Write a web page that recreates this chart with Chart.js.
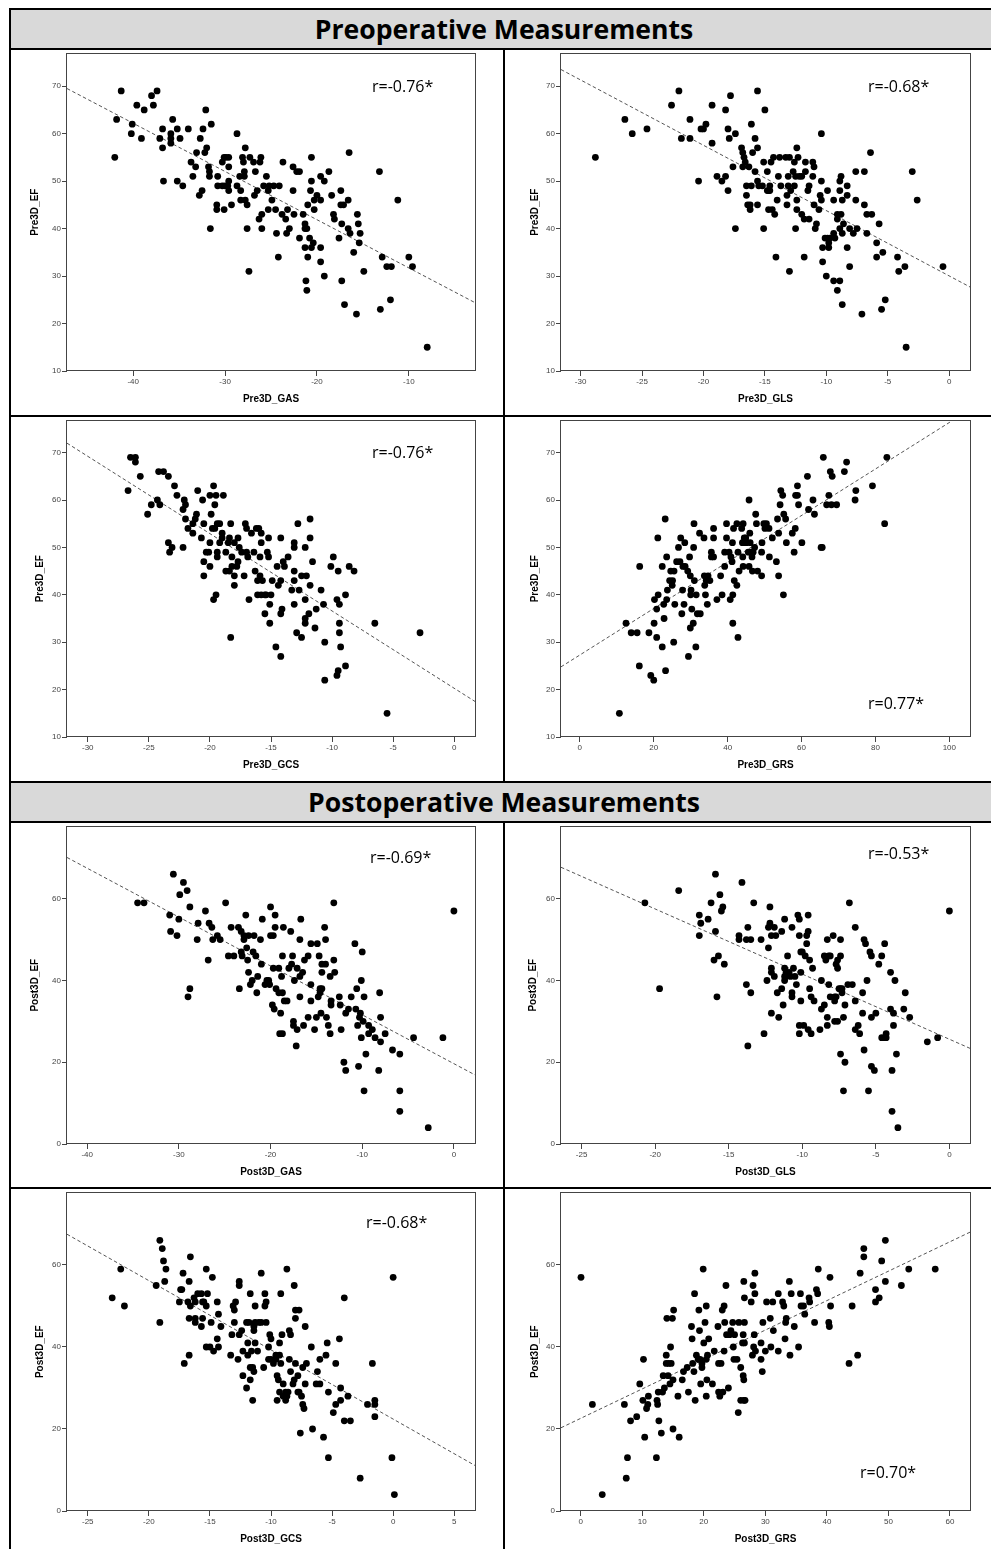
<!DOCTYPE html>
<html><head><meta charset="utf-8">
<script src="https://cdn.jsdelivr.net/npm/chart.js@4.4.1/dist/chart.umd.min.js"></script>
<style>
html,body{margin:0;padding:0;background:#fff;}
body{width:991px;height:1549px;overflow:hidden;position:relative;}
.ln{position:absolute;background:#000;}
.hdr{position:absolute;background:#d9d9d9;left:11px;width:986px;height:38px;line-height:38px;text-align:center;font-family:"Open Sans",sans-serif;font-weight:bold;font-size:26.6px;color:#000;white-space:nowrap;}
canvas{position:absolute;}
</style></head><body>
<div class="ln" style="left:9px;top:8px;width:982px;height:2px"></div>
<div class="ln" style="left:9px;top:8px;width:2px;height:1541px"></div>
<div class="hdr" style="top:10px">Preoperative Measurements</div>
<div class="ln" style="left:9px;top:48px;width:982px;height:2px"></div>
<div class="ln" style="left:9px;top:415px;width:982px;height:2px"></div>
<div class="ln" style="left:9px;top:781px;width:982px;height:2px"></div>
<div class="hdr" style="top:783px">Postoperative Measurements</div>
<div class="ln" style="left:9px;top:821px;width:982px;height:2px"></div>
<div class="ln" style="left:9px;top:1187px;width:982px;height:2px"></div>
<div class="ln" style="left:503px;top:50px;width:2px;height:731px"></div>
<div class="ln" style="left:503px;top:823px;width:2px;height:726px"></div>
<canvas id="c1"></canvas><canvas id="c2"></canvas><canvas id="c3"></canvas><canvas id="c4"></canvas>
<canvas id="c5"></canvas><canvas id="c6"></canvas><canvas id="c7"></canvas><canvas id="c8"></canvas>
<script>
// ---------- DATA ----------
const preEFTicks = [10,20,30,40,50,60,70];
const postEFTicks = [0,20,40,60];
const preGASTicks = [-40,-30,-20,-10];
const preGLSTicks = [-30,-25,-20,-15,-10,-5,0];
const preGCSTicks = [-30,-25,-20,-15,-10,-5,0];
const preGRSTicks = [0,20,40,60,80,100];
const postGASTicks = [-40,-30,-20,-10,0];
const postGLSTicks = [-25,-20,-15,-10,-5,0];
const postGCSTicks = [-25,-20,-15,-10,-5,0,5];
const postGRSTicks = [0,10,20,30,40,50,60];

const rLabels = ["r=-0.76*","r=-0.68*","r=-0.76*","r=0.77*","r=-0.69*","r=-0.53*","r=-0.68*","r=0.70*"];

// [strain, EF]
const preGAS = [[-42.0,55],[-41.8,63],[-41.3,69],[-40.1,62],[-40.2,60],[-39.6,66],[-39.1,59],[-38.8,65],[-38.0,68],[-37.8,66],[-37.4,69],[-36.8,61],[-37.1,59],[-36.8,57],[-36.7,50],[-35.9,60],[-35.9,59],[-35.9,58],[-35.7,63],[-35.2,61],[-34.9,59],[-35.2,50],[-34.6,49],[-34.0,61],[-33.7,54],[-33.5,51],[-33.2,53],[-33.1,56],[-32.7,59],[-32.4,61],[-32.1,65],[-32.2,56],[-32.0,57],[-31.8,53],[-31.7,52],[-31.7,51],[-32.8,47],[-32.5,48],[-31.5,62],[-31.6,40],[-30.8,51],[-30.8,49],[-30.9,45],[-30.9,44],[-30.3,54],[-30.1,55],[-30.3,49],[-30.0,49],[-29.9,55],[-29.6,55],[-29.6,53],[-29.6,50],[-29.7,49],[-29.6,48],[-30.1,44],[-29.3,45],[-28.7,60],[-28.7,49],[-28.4,51],[-28.3,48],[-28.3,46],[-28.1,55],[-28.0,54],[-27.9,52],[-27.9,51],[-27.8,57],[-27.8,46],[-27.6,45],[-27.6,40],[-27.4,31],[-27.3,55],[-26.9,54],[-26.7,52],[-26.5,48],[-26.8,47],[-26.2,54],[-26.1,55],[-26.3,42],[-26.0,43],[-26.0,40],[-25.8,49],[-25.5,51],[-25.3,48],[-25.2,49],[-25.3,44],[-24.9,46],[-24.7,49],[-24.1,49],[-24.5,44],[-24.4,39],[-24.2,34],[-23.7,54],[-23.8,43],[-23.4,42],[-23.2,44],[-23.3,39],[-23.0,40],[-22.6,48],[-22.6,53],[-22.5,43],[-22.2,52],[-21.9,52],[-21.9,38],[-21.5,43],[-21.3,41],[-21.3,40],[-21.1,40],[-21.3,36],[-21.2,29],[-21.1,27],[-21.0,45],[-21.0,34],[-20.8,38],[-20.6,55],[-20.6,50],[-20.7,48],[-20.6,36],[-20.4,37],[-20.3,44],[-20.3,46],[-20.0,47],[-19.6,46],[-19.6,51],[-19.6,36],[-19.6,33],[-19.2,50],[-19.2,30],[-18.7,52],[-18.4,47],[-18.2,43],[-18.1,42],[-17.6,38],[-17.4,48],[-17.4,45],[-17.1,45],[-17.3,41],[-17.3,29],[-17.0,24],[-16.6,46],[-16.5,56],[-16.6,40],[-16.4,39],[-16.0,35],[-15.7,22],[-15.6,43],[-15.5,41],[-15.3,39],[-15.4,37],[-14.9,31],[-13.2,52],[-13.1,23],[-12.9,34],[-12.4,32],[-11.9,32],[-12.0,25],[-11.2,46],[-10.0,34],[-9.6,32],[-8.0,15]];
const preGLS = [[-28.8,55],[-26.4,63],[-25.8,60],[-24.6,61],[-22.6,66],[-22.0,69],[-21.8,59],[-21.1,63],[-21.1,59],[-20.4,50],[-20.2,61],[-20.0,61],[-19.8,62],[-19.3,66],[-19.3,58],[-18.9,51],[-18.5,50],[-18.2,51],[-18.2,65],[-18.0,61],[-17.9,59],[-18.0,48],[-17.8,68],[-17.6,53],[-17.4,60],[-17.4,40],[-16.9,57],[-16.8,53],[-16.8,56],[-16.7,55],[-16.6,54],[-16.5,49],[-16.5,47],[-16.4,45],[-16.3,53],[-16.2,44],[-16.2,45],[-16.1,49],[-16.1,62],[-16.0,56],[-15.8,59],[-15.8,52],[-15.6,57],[-15.6,69],[-15.6,50],[-15.6,45],[-15.5,49],[-15.2,49],[-15.1,54],[-15.0,65],[-15.1,40],[-14.8,52],[-14.8,48],[-14.7,48],[-14.7,44],[-14.6,49],[-14.5,54],[-14.6,48],[-14.4,44],[-14.3,55],[-14.2,43],[-14.1,34],[-14.0,46],[-13.9,51],[-13.8,55],[-13.7,49],[-13.3,55],[-13.2,45],[-13.1,49],[-13.1,51],[-13.2,47],[-13.0,55],[-13.0,31],[-12.9,48],[-12.7,52],[-12.6,49],[-12.6,54],[-12.5,51],[-12.5,40],[-12.4,57],[-12.4,46],[-12.4,44],[-12.3,55],[-12.2,51],[-12.0,51],[-12.0,43],[-11.8,42],[-11.7,52],[-11.7,54],[-11.8,34],[-11.5,48],[-11.4,49],[-11.4,42],[-11.1,54],[-11.1,51],[-11.0,53],[-11.0,45],[-10.9,40],[-10.8,41],[-10.6,44],[-10.5,47],[-10.4,50],[-10.4,46],[-10.4,60],[-10.3,36],[-10.3,33],[-10.1,38],[-10.0,30],[-9.9,48],[-9.9,38],[-9.8,37],[-9.8,36],[-9.7,38],[-9.4,39],[-9.4,46],[-9.3,38],[-9.4,29],[-9.1,43],[-9.1,42],[-9.1,27],[-8.9,40],[-8.9,29],[-8.9,50],[-8.9,48],[-8.8,51],[-8.8,43],[-8.7,46],[-8.7,24],[-8.7,39],[-8.6,41],[-8.3,36],[-8.3,47],[-8.3,49],[-8.1,32],[-8.1,40],[-7.8,39],[-7.6,46],[-7.6,52],[-7.5,40],[-7.1,22],[-6.9,52],[-6.9,45],[-6.7,43],[-6.7,39],[-6.3,43],[-6.4,56],[-5.9,37],[-5.9,34],[-5.7,41],[-5.5,23],[-5.4,35],[-5.2,25],[-4.2,34],[-4.1,31],[-3.6,32],[-3.5,15],[-3.0,52],[-2.6,46],[-0.5,32]];
const preGCS = [[-26.7,62],[-26.5,69],[-26.1,68],[-26.1,69],[-25.7,65],[-25.1,57],[-24.8,59],[-24.3,60],[-24.1,59],[-24.2,66],[-23.8,66],[-23.4,65],[-23.4,51],[-23.3,49],[-23.1,50],[-22.9,63],[-22.7,61],[-22.2,50],[-22.2,58],[-22.1,60],[-22.0,59],[-22.0,56],[-21.8,54],[-21.4,53],[-21.4,55],[-21.2,56],[-21.1,57],[-21.0,62],[-20.7,52],[-20.6,60],[-20.5,47],[-20.5,44],[-20.5,55],[-20.3,49],[-20.1,49],[-20.0,61],[-20.0,46],[-20.0,51],[-19.9,57],[-19.8,54],[-19.7,63],[-19.6,59],[-19.6,54],[-19.7,39],[-19.5,61],[-19.5,40],[-19.4,49],[-19.4,55],[-19.4,48],[-19.2,51],[-19.2,55],[-19.0,53],[-19.0,52],[-18.9,61],[-18.7,49],[-18.7,45],[-18.5,51],[-18.4,52],[-18.4,45],[-18.3,31],[-18.3,55],[-18.2,48],[-18.2,46],[-18.0,51],[-18.0,44],[-18.0,42],[-17.8,46],[-17.7,47],[-17.7,52],[-17.6,50],[-17.4,49],[-17.2,44],[-17.1,55],[-17.0,54],[-17.0,49],[-16.9,48],[-16.8,39],[-16.6,53],[-16.4,49],[-16.3,45],[-16.2,54],[-16.1,43],[-16.0,54],[-16.1,40],[-15.9,48],[-15.9,44],[-15.8,40],[-15.8,53],[-15.8,51],[-15.7,43],[-15.5,40],[-15.5,36],[-15.4,40],[-15.3,49],[-15.2,52],[-15.2,48],[-15.1,38],[-15.1,34],[-15.0,40],[-14.9,43],[-14.5,46],[-14.4,42],[-14.2,43],[-14.2,36],[-14.2,27],[-14.1,37],[-14.6,29],[-14.2,52],[-14.0,47],[-13.9,46],[-13.6,48],[-13.3,41],[-13.1,51],[-13.1,50],[-13.1,45],[-13.1,43],[-13.1,38],[-12.9,32],[-12.8,55],[-12.7,41],[-12.5,31],[-12.5,44],[-12.2,50],[-12.2,39],[-12.2,35],[-12.2,34],[-12.1,44],[-11.9,36],[-11.8,42],[-11.8,52],[-11.8,56],[-11.6,47],[-11.4,33],[-11.3,37],[-10.9,41],[-10.7,38],[-10.6,30],[-10.6,22],[-10.1,46],[-9.9,48],[-9.6,39],[-9.5,45],[-9.4,38],[-9.4,34],[-9.4,32],[-9.3,29],[-9.5,24],[-9.6,23],[-8.9,40],[-8.9,25],[-8.6,46],[-8.2,45],[-6.5,34],[-5.5,15],[-2.8,32]];
const preGRS = [[10.7,15],[12.5,34],[13.9,32],[15.5,32],[16.1,25],[16.2,46],[18.7,32],[19.2,23],[20.0,22],[20.1,34],[20.2,39],[20.8,31],[20.8,37],[21.1,52],[21.2,40],[22.3,29],[22.3,46],[22.7,38],[22.8,35],[23.1,56],[23.2,24],[23.5,48],[23.5,39],[23.7,41],[24.3,43],[24.6,45],[25.0,42],[25.1,43],[25.4,30],[25.5,45],[25.7,38],[26.2,47],[26.7,50],[27.1,47],[27.3,52],[27.6,36],[27.8,41],[27.9,46],[28.2,38],[28.4,51],[28.5,46],[29.2,45],[29.4,27],[29.7,48],[29.9,33],[29.9,44],[30.1,41],[30.0,40],[30.3,37],[30.7,34],[30.9,55],[30.8,50],[31.0,43],[31.4,29],[31.5,40],[31.8,36],[32.6,36],[32.4,53],[33.6,52],[33.7,44],[33.8,42],[34.0,40],[34.2,43],[34.5,38],[34.7,44],[35.2,43],[35.6,49],[35.6,48],[36.2,48],[36.2,54],[36.2,52],[37.1,39],[38.1,44],[38.5,40],[39.2,49],[39.7,55],[39.7,52],[39.2,46],[40.4,49],[40.7,39],[40.9,48],[41.2,47],[41.3,51],[41.4,40],[41.4,34],[41.6,54],[41.8,43],[42.5,55],[42.5,42],[42.8,31],[42.8,49],[43.1,45],[43.8,54],[44.0,51],[44.1,48],[44.2,55],[44.2,46],[44.5,52],[44.8,51],[44.9,52],[45.1,51],[45.6,49],[45.8,60],[45.8,46],[46.0,53],[46.1,51],[46.2,49],[46.6,48],[46.7,45],[46.9,49],[47.3,50],[47.6,57],[47.8,55],[48.1,45],[49.2,44],[49.2,49],[49.3,51],[49.8,55],[50.1,54],[50.5,55],[51.2,54],[51.3,48],[52.1,52],[53.2,47],[53.5,56],[53.8,53],[53.8,44],[54.2,59],[54.4,62],[54.9,61],[55.1,40],[55.2,57],[55.7,56],[55.9,51],[57.5,53],[58.0,49],[58.3,54],[58.4,61],[58.9,61],[58.9,63],[59.2,59],[60.1,51],[61.6,65],[61.9,58],[63.1,60],[63.5,57],[65.3,50],[65.6,50],[65.9,69],[67.4,61],[66.8,59],[67.8,66],[68.1,59],[68.3,65],[69.5,59],[71.6,66],[72.2,68],[74.5,60],[74.7,62],[79.2,63],[82.5,55],[83.1,69]];
const postGAS = [[-34.5,59],[-33.8,59],[-31.0,56],[-30.9,52],[-30.6,66],[-30.2,51],[-30.0,55],[-29.9,61],[-29.5,64],[-29.1,62],[-29.0,36],[-28.8,38],[-28.8,58],[-28.0,50],[-27.9,54],[-27.1,57],[-26.8,45],[-26.7,54],[-26.4,53],[-26.3,50],[-25.8,51],[-25.5,50],[-24.9,59],[-24.6,46],[-24.3,53],[-24.0,46],[-23.5,53],[-23.4,38],[-23.2,47],[-23.2,52],[-23.1,46],[-22.9,51],[-22.9,50],[-22.7,56],[-22.6,48],[-22.5,45],[-22.4,51],[-22.4,42],[-22.2,39],[-22.0,40],[-21.9,47],[-21.8,51],[-21.6,46],[-21.5,37],[-21.4,41],[-21.1,50],[-21.0,44],[-20.9,55],[-20.6,39],[-20.4,40],[-20.2,40],[-20.1,39],[-20.0,51],[-20.0,58],[-19.8,34],[-19.7,51],[-19.7,43],[-19.6,33],[-19.5,56],[-19.5,53],[-19.4,38],[-19.1,43],[-19.1,37],[-19.0,27],[-18.9,32],[-18.8,41],[-18.7,37],[-18.7,27],[-18.7,46],[-18.6,53],[-18.5,35],[-18.2,35],[-18.0,43],[-17.8,52],[-17.7,44],[-17.6,46],[-17.5,29],[-17.5,30],[-17.4,40],[-17.2,24],[-17.1,43],[-17.1,28],[-16.8,50],[-16.8,36],[-16.7,55],[-16.8,41],[-16.5,42],[-16.3,45],[-16.4,29],[-15.9,31],[-15.9,46],[-15.6,39],[-15.6,49],[-15.6,35],[-15.2,28],[-15.0,31],[-14.9,49],[-14.8,36],[-14.7,46],[-14.6,37],[-14.6,38],[-14.5,32],[-14.4,38],[-14.4,42],[-14.4,44],[-14.1,53],[-14.0,44],[-14.0,50],[-13.9,31],[-13.7,29],[-13.5,41],[-13.4,34],[-13.4,35],[-13.5,27],[-13.1,59],[-13.1,45],[-13.0,42],[-12.5,36],[-12.4,34],[-12.3,28],[-12.0,20],[-11.8,18],[-11.8,32],[-11.5,33],[-11.2,36],[-10.8,49],[-10.7,33],[-10.6,38],[-10.5,29],[-10.4,19],[-10.3,31],[-10.2,32],[-10.1,40],[-10.1,26],[-10.0,47],[-9.9,30],[-9.8,13],[-9.8,36],[-9.6,22],[-9.3,29],[-9.3,27],[-8.9,28],[-8.6,26],[-8.1,37],[-8.2,18],[-8.0,31],[-8.0,25],[-7.5,27],[-6.7,23],[-5.9,13],[-5.9,22],[-5.9,8],[-4.4,26],[-2.8,4],[-1.2,26],[0.0,57]];
const postGLS = [[-20.7,59],[-19.7,38],[-18.4,62],[-17.0,56],[-16.9,54],[-17.0,51],[-16.4,55],[-16.2,59],[-16.0,45],[-15.9,66],[-15.9,52],[-15.8,36],[-15.7,46],[-15.6,61],[-15.5,57],[-15.4,58],[-15.3,44],[-14.3,51],[-14.3,50],[-14.1,64],[-13.8,39],[-13.7,53],[-13.8,50],[-13.7,24],[-13.5,37],[-13.5,50],[-13.3,59],[-12.8,50],[-12.6,27],[-12.4,40],[-12.3,48],[-12.3,53],[-12.2,58],[-12.2,54],[-12.1,43],[-12.1,42],[-12.1,51],[-12.1,32],[-11.9,53],[-11.9,41],[-11.8,51],[-11.7,37],[-11.6,31],[-11.4,52],[-11.4,38],[-11.3,34],[-11.2,41],[-11.2,43],[-11.2,55],[-11.2,40],[-11.1,42],[-11.1,41],[-11.0,46],[-10.9,42],[-10.8,41],[-10.7,36],[-10.7,37],[-10.7,53],[-10.6,43],[-10.5,41],[-10.4,39],[-10.3,56],[-10.2,55],[-10.2,29],[-10.2,27],[-10.2,51],[-10.1,42],[-10.1,47],[-10.1,35],[-10.0,47],[-9.9,29],[-9.8,46],[-9.7,49],[-9.7,51],[-9.6,52],[-9.6,56],[-9.6,28],[-9.5,45],[-9.5,38],[-9.4,27],[-9.4,36],[-9.3,43],[-9.2,35],[-8.8,28],[-8.7,40],[-8.7,33],[-8.5,34],[-8.5,46],[-8.4,45],[-8.3,31],[-8.3,29],[-8.3,50],[-8.2,46],[-8.2,39],[-8.1,36],[-8.1,46],[-7.9,51],[-7.8,36],[-7.8,35],[-7.8,30],[-7.7,36],[-7.7,44],[-7.6,30],[-7.6,43],[-7.6,45],[-7.4,46],[-7.5,38],[-7.4,50],[-7.4,22],[-7.4,38],[-7.3,37],[-7.3,38],[-7.2,13],[-7.2,31],[-7.1,34],[-7.1,20],[-6.9,39],[-6.8,59],[-6.6,39],[-6.4,53],[-6.4,28],[-6.4,35],[-6.2,29],[-6.1,27],[-5.9,37],[-5.8,50],[-5.9,32],[-5.8,23],[-5.7,49],[-5.6,40],[-5.5,13],[-5.4,47],[-5.3,46],[-5.3,19],[-5.3,31],[-5.1,18],[-5.0,32],[-4.8,44],[-4.6,26],[-4.6,46],[-4.4,49],[-4.4,26],[-4.3,26],[-4.3,27],[-4.0,42],[-4.0,33],[-3.9,8],[-3.9,18],[-3.8,32],[-3.8,29],[-3.7,40],[-3.6,22],[-3.5,4],[-3.1,33],[-3.0,37],[-2.7,31],[-1.5,25],[-0.8,26],[0.0,57]];
const postGCS = [[-23.0,52],[-22.3,59],[-22.0,50],[-19.4,55],[-19.1,66],[-18.9,64],[-19.1,46],[-18.8,61],[-18.6,59],[-18.7,56],[-17.5,51],[-17.4,54],[-17.3,54],[-17.2,58],[-17.1,36],[-16.8,51],[-16.7,47],[-16.7,56],[-16.7,38],[-16.6,62],[-16.6,50],[-16.3,52],[-16.2,47],[-16.2,46],[-16.2,51],[-16.0,53],[-15.7,53],[-15.7,45],[-15.6,47],[-15.6,51],[-15.5,51],[-15.3,59],[-15.3,50],[-15.3,40],[-15.2,53],[-15.0,40],[-14.9,46],[-14.8,57],[-14.7,39],[-14.4,51],[-14.4,42],[-14.3,48],[-14.3,40],[-14.1,45],[-13.3,38],[-13.2,43],[-13.1,50],[-13.0,49],[-13.0,46],[-12.9,51],[-12.7,37],[-12.6,56],[-12.6,55],[-12.6,43],[-12.4,44],[-12.3,33],[-12.3,39],[-12.0,46],[-12.0,30],[-11.9,41],[-11.9,38],[-11.8,46],[-11.7,53],[-11.7,35],[-11.7,32],[-11.6,39],[-11.5,35],[-11.5,27],[-11.4,44],[-11.4,45],[-11.4,34],[-11.3,41],[-11.3,50],[-11.3,46],[-11.1,39],[-11.0,46],[-10.8,58],[-10.8,46],[-10.6,35],[-10.5,53],[-10.5,50],[-10.4,46],[-10.4,51],[-10.2,37],[-10.2,40],[-10.1,43],[-10.0,42],[-10.0,37],[-9.8,36],[-9.6,37],[-9.6,38],[-9.5,27],[-9.5,33],[-9.4,32],[-9.3,29],[-9.3,41],[-9.3,38],[-9.2,36],[-9.2,53],[-9.1,43],[-9.0,31],[-9.0,28],[-8.8,29],[-8.8,27],[-8.7,59],[-8.7,28],[-8.6,29],[-8.5,37],[-8.5,44],[-8.4,43],[-8.4,34],[-8.2,31],[-8.1,32],[-8.1,55],[-8.0,47],[-8.0,49],[-8.0,36],[-7.8,33],[-7.8,29],[-7.7,49],[-7.7,29],[-7.6,19],[-7.5,28],[-7.4,26],[-7.4,35],[-7.3,25],[-7.2,45],[-7.2,31],[-7.1,36],[-6.7,40],[-6.6,20],[-6.3,31],[-6.2,34],[-6.0,31],[-6.0,37],[-5.7,18],[-5.5,38],[-5.4,41],[-5.3,13],[-5.3,29],[-4.9,24],[-4.7,26],[-4.7,36],[-4.4,42],[-4.3,27],[-4.3,30],[-4.0,52],[-4.0,22],[-3.7,28],[-3.5,22],[-2.1,26],[-1.7,36],[-1.5,27],[-1.5,26],[-1.5,23],[-0.1,13],[0.0,57],[0.1,4],[-2.7,8]];
const postGRS = [[0.05,57],[1.9,26],[3.5,4],[7.1,26],[7.4,8],[7.6,13],[8.1,22],[9.1,23],[9.6,31],[10.1,27],[10.2,37],[10.4,18],[10.7,25],[10.9,26],[11.0,28],[12.3,13],[12.4,27],[12.5,26],[12.6,29],[12.7,22],[13.1,19],[13.3,29],[13.4,33],[13.6,30],[13.9,38],[14.0,47],[13.9,36],[14.2,33],[14.3,36],[14.5,31],[14.6,40],[14.7,36],[14.9,47],[15.0,20],[15.0,32],[15.1,49],[15.8,28],[16.0,18],[16.5,32],[16.7,34],[17.3,35],[17.5,29],[18.0,45],[18.1,42],[18.2,36],[18.4,34],[18.5,53],[18.6,27],[18.8,38],[19.1,37],[19.2,49],[19.3,44],[19.4,37],[19.5,31],[19.7,36],[19.7,35],[19.9,59],[20.0,41],[20.2,46],[20.4,37],[20.4,50],[20.4,28],[20.5,32],[20.6,38],[20.8,42],[21.4,31],[21.7,39],[22.3,45],[22.4,29],[22.4,36],[22.6,28],[22.8,36],[23.0,49],[23.1,29],[23.3,50],[23.3,39],[23.4,46],[23.6,55],[23.7,43],[24.0,30],[24.2,43],[24.4,44],[24.7,46],[24.8,40],[24.9,37],[25.0,43],[25.4,37],[25.6,24],[25.7,46],[26.0,35],[26.0,27],[26.3,41],[26.4,43],[26.4,33],[26.5,32],[26.5,56],[26.5,27],[26.6,52],[26.6,46],[26.6,41],[26.7,27],[27.7,51],[27.9,38],[28.0,55],[28.1,40],[28.2,43],[28.3,53],[28.3,58],[28.4,39],[29.3,41],[29.3,37],[29.5,34],[29.6,46],[30.0,39],[30.2,51],[30.8,47],[30.9,40],[31.2,51],[31.3,44],[32.1,53],[32.1,39],[32.8,51],[33.0,50],[33.2,42],[33.3,46],[33.4,47],[33.9,56],[34.0,38],[34.2,53],[34.7,45],[35.4,40],[35.7,53],[35.8,50],[36.2,50],[36.4,48],[37.1,52],[37.2,51],[38.0,46],[38.3,54],[38.5,53],[38.6,59],[40.3,46],[40.4,45],[40.5,57],[40.6,50],[43.6,36],[44.1,50],[45.0,38],[45.4,58],[46.0,64],[46.0,62],[47.9,51],[47.9,54],[48.5,52],[48.9,61],[49.5,66],[49.5,56],[52.1,55],[53.3,59],[57.6,59]];

// fit lines (two end points each, data units)
const preGASFit = [[-47.2,69.5],[-2.8,24.4]];
const preGLSFit = [[-31.6,73.5],[1.7,27.7]];
const preGCSFit = [[-31.7,72.0],[1.7,17.5]];
const preGRSFit = [[-5.1,24.8],[105.6,79.1]];
const postGASFit = [[-42.2,70.1],[2.3,16.9]];
const postGLSFit = [[-26.4,67.7],[1.4,23.4]];
const postGCSFit = [[-26.7,67.5],[6.7,11.1]];
const postGRSFit = [[-3.2,20.3],[63.25,68.0]];

// ---------- LAYOUT / STYLE ----------
const specs = [
  {id:'c1', pts:preGAS,  fit:preGASFit,  xt:preGASTicks,  yt:preEFTicks,  xr:[-47.2,-2.8], yr:[10,76.9], xl:'Pre3D_GAS',  yl:'Pre3D_EF',  r:rLabels[0], box:[11,50,492,365],  area:[67,53,475,371],  ytx:35,  rp:[305,34]},
  {id:'c2', pts:preGLS,  fit:preGLSFit,  xt:preGLSTicks,  yt:preEFTicks,  xr:[-31.6,1.7],  yr:[10,76.9], xl:'Pre3D_GLS',  yl:'Pre3D_EF',  r:rLabels[1], box:[505,50,486,365], area:[561,53,970,371], ytx:535, rp:[307,34]},
  {id:'c3', pts:preGCS,  fit:preGCSFit,  xt:preGCSTicks,  yt:preEFTicks,  xr:[-31.7,1.7],  yr:[10,76.8], xl:'Pre3D_GCS',  yl:'Pre3D_EF',  r:rLabels[2], box:[11,417,492,364], area:[67,419,475,737], ytx:40,  rp:[305,33]},
  {id:'c4', pts:preGRS,  fit:preGRSFit,  xt:preGRSTicks,  yt:preEFTicks,  xr:[-5.1,105.6], yr:[10,76.8], xl:'Pre3D_GRS',  yl:'Pre3D_EF',  r:rLabels[3], box:[505,417,486,364],area:[561,419,970,737], ytx:535, rp:[307,284]},
  {id:'c5', pts:postGAS, fit:postGASFit, xt:postGASTicks, yt:postEFTicks, xr:[-42.2,2.3],  yr:[0,77.7],  xl:'Post3D_GAS', yl:'Post3D_EF', r:rLabels[4], box:[11,823,492,364], area:[67,826,475,1144], ytx:35,  rp:[303,32]},
  {id:'c6', pts:postGLS, fit:postGLSFit, xt:postGLSTicks, yt:postEFTicks, xr:[-26.4,1.4],  yr:[0,77.7],  xl:'Post3D_GLS', yl:'Post3D_EF', r:rLabels[5], box:[505,823,486,364],area:[561,826,970,1144], ytx:533, rp:[307,28]},
  {id:'c7', pts:postGCS, fit:postGCSFit, xt:postGCSTicks, yt:postEFTicks, xr:[-26.7,6.7],  yr:[0,77.7],  xl:'Post3D_GCS', yl:'Post3D_EF', r:rLabels[6], box:[11,1189,492,360],area:[67,1192,475,1511], ytx:40,  rp:[299,31]},
  {id:'c8', pts:postGRS, fit:postGRSFit, xt:postGRSTicks, yt:postEFTicks, xr:[-3.2,63.25], yr:[0,77.7],  xl:'Post3D_GRS', yl:'Post3D_EF', r:rLabels[7], box:[505,1189,486,360],area:[561,1192,970,1511], ytx:535, rp:[299,281]}
];

const framePlugin = {
  id: 'frameLabel',
  afterDatasetsDraw(chart, args, o) {
    const {ctx, chartArea: a} = chart;
    ctx.save();
    ctx.strokeStyle = '#444';
    ctx.lineWidth = 1;
    ctx.strokeRect(Math.round(a.left) - 0.5, Math.round(a.top) + 0.5, Math.round(a.right - a.left) + 1, Math.round(a.bottom - a.top) - 1);
    ctx.fillStyle = '#000';
    ctx.font = '16px "Open Sans"';
    ctx.textBaseline = 'middle';
    ctx.textAlign = 'left';
    ctx.fillText(o.text, a.left + o.dx, a.top + o.dy);
    ctx.restore();
  }
};

function build(s) {
  const [cx, cy, cw, ch] = s.box;
  const [l, t, r, b] = s.area;
  const cv = document.getElementById(s.id);
  cv.width = cw; cv.height = ch;
  cv.style.left = cx + 'px'; cv.style.top = cy + 'px';
  cv.style.width = cw + 'px'; cv.style.height = ch + 'px';
  const yW = l - cx, xH = cy + ch - b;
  const xTitlePad = (cy + ch) - (b + 28) - 6;
  const yTitlePad = s.ytx - cx - 6;
  const tickFont = {family: '"Liberation Sans", Arial, sans-serif', size: 8};
  const titleFont = {family: '"Liberation Sans", Arial, sans-serif', size: 10, weight: 'bold'};
  new Chart(cv, {
    type: 'scatter',
    data: {
      datasets: [
        {data: s.pts.map(p => ({x: p[0], y: p[1]})), pointRadius: 3.4, pointHoverRadius: 3.4,
         backgroundColor: '#000', borderColor: '#000', borderWidth: 0, order: 1},
        {data: s.fit.map(p => ({x: p[0], y: p[1]})), showLine: true, pointRadius: 0,
         borderColor: '#555', borderWidth: 1, borderDash: [3.5, 2.5], order: 2}
      ]
    },
    options: {
      responsive: false, animation: false, devicePixelRatio: 1,
      layout: {padding: {left: 0, top: t - cy, right: cx + cw - r, bottom: 0}},
      plugins: {legend: {display: false}, tooltip: {enabled: false},
        frameLabel: {text: s.r, dx: s.rp[0], dy: s.rp[1]}},
      scales: {
        x: {
          type: 'linear', position: 'bottom', min: s.xr[0], max: s.xr[1],
          afterBuildTicks: sc => { sc.ticks = s.xt.map(v => ({value: v})); },
          afterFit: sc => { sc.height = xH; sc.paddingLeft = 0; sc.paddingRight = 0; },
          ticks: {color: '#444', font: tickFont, padding: 1, maxRotation: 0, autoSkip: false, callback: v => String(v)},
          grid: {drawOnChartArea: false, drawTicks: true, tickLength: 5, color: '#444'},
          border: {display: false},
          title: {display: true, text: s.xl, color: '#000', font: titleFont, padding: {top: 0, bottom: xTitlePad}}
        },
        y: {
          type: 'linear', position: 'left', min: s.yr[0], max: s.yr[1],
          afterBuildTicks: sc => { sc.ticks = s.yt.map(v => ({value: v})); },
          afterFit: sc => { sc.width = yW; sc.paddingTop = 0; sc.paddingBottom = 0; },
          ticks: {color: '#444', font: tickFont, padding: 1, autoSkip: false, callback: v => String(v)},
          grid: {drawOnChartArea: false, drawTicks: true, tickLength: 5, color: '#444'},
          border: {display: false},
          title: {display: true, text: s.yl, color: '#000', font: titleFont, padding: {top: yTitlePad, bottom: 0}}
        }
      }
    },
    plugins: [framePlugin]
  });
}

const fontLoads = [
  document.fonts.load('16px "Open Sans"'),
  document.fonts.load('bold 26px "Open Sans"'),
  document.fonts.load('8px "Liberation Sans"'),
  document.fonts.load('bold 10px "Liberation Sans"')
];
Promise.all(fontLoads).catch(() => {}).then(() => specs.forEach(build));
</script>
</body></html>
